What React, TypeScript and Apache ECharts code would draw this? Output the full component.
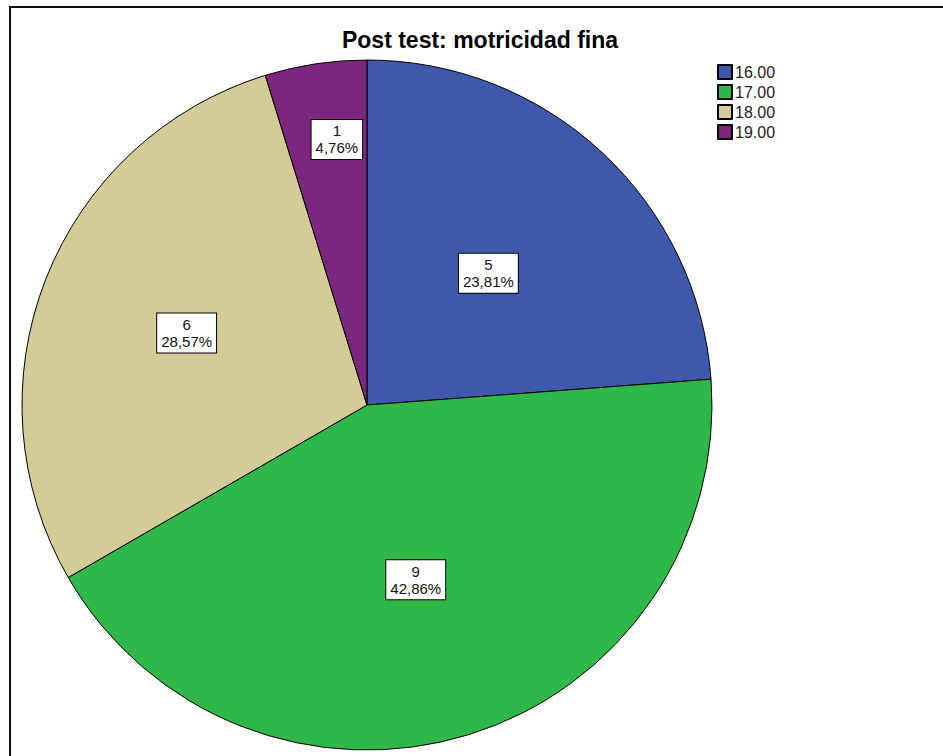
import React, { useEffect, useRef } from "react";
import * as echarts from "echarts";

const title = "Post test: motricidad fina";
const categories = ["16.00", "17.00", "18.00", "19.00"];
const counts = [5, 9, 6, 1];
const colors = ["#3E58AC", "#2EB848", "#D4CC97", "#7B277D"];
const labelOffsets: [number, number][] = [[2, -3], [-3, 7], [-17, -8], [-4, -92]];

const FONT = "'Liberation Sans', Arial, Helvetica, sans-serif";

export default function App() {
  const ref = useRef<HTMLDivElement>(null);
  useEffect(() => {
    if (!ref.current) return;
    const chart = echarts.init(ref.current, undefined, { renderer: "svg" });
    chart.setOption({
      animation: false,
      backgroundColor: "#ffffff",
      title: {
        text: title,
        left: 480,
        top: 28,
        padding: 0,
        textAlign: "center",
        textStyle: { fontFamily: FONT, fontSize: 23, fontWeight: "bold", color: "#000" },
      },
      legend: {
        orient: "vertical",
        left: 717,
        top: 64,
        padding: 0,
        itemWidth: 14,
        itemHeight: 14,
        itemGap: 4,
        icon: "rect",
        data: categories,
        textStyle: { fontFamily: FONT, fontSize: 16, lineHeight: 14, color: "#222", padding: [0, 0, 0, -2] },
      },
      graphic: [
        {
          type: "rect",
          shape: { x: 10, y: 7, width: 1000, height: 800 },
          style: { fill: "none", stroke: "#111", lineWidth: 2 },
          silent: true,
        },
      ],
      series: [
        {
          type: "pie",
          center: [367, 405],
          radius: [0, 345],
          startAngle: 90,
          clockwise: true,
          avoidLabelOverlap: false,
          itemStyle: { borderColor: "#000", borderWidth: 1 },
          label: {
            show: true,
            position: "inside",
            fontFamily: FONT,
            fontSize: 15,
            lineHeight: 17,
            color: "#111",
            backgroundColor: "#ffffff",
            borderColor: "#000",
            borderWidth: 1,
            padding: [3, 4, 2, 4],
            align: "center",
            formatter: (p: any) => `${p.value}\n${p.percent.toFixed(2).replace(".", ",")}%`,
          },
          labelLine: { show: false },
          emphasis: { disabled: true },
          data: categories.map((c, i) => ({
            name: c,
            value: counts[i],
            itemStyle: { color: colors[i] },
            label: { offset: labelOffsets[i] },
          })),
        },
      ],
    });
    return () => chart.dispose();
  }, []);
  return (
    <div
      ref={ref}
      style={{ position: "fixed", left: 0, top: 0, width: 943, height: 756 }}
    />
  );
}
